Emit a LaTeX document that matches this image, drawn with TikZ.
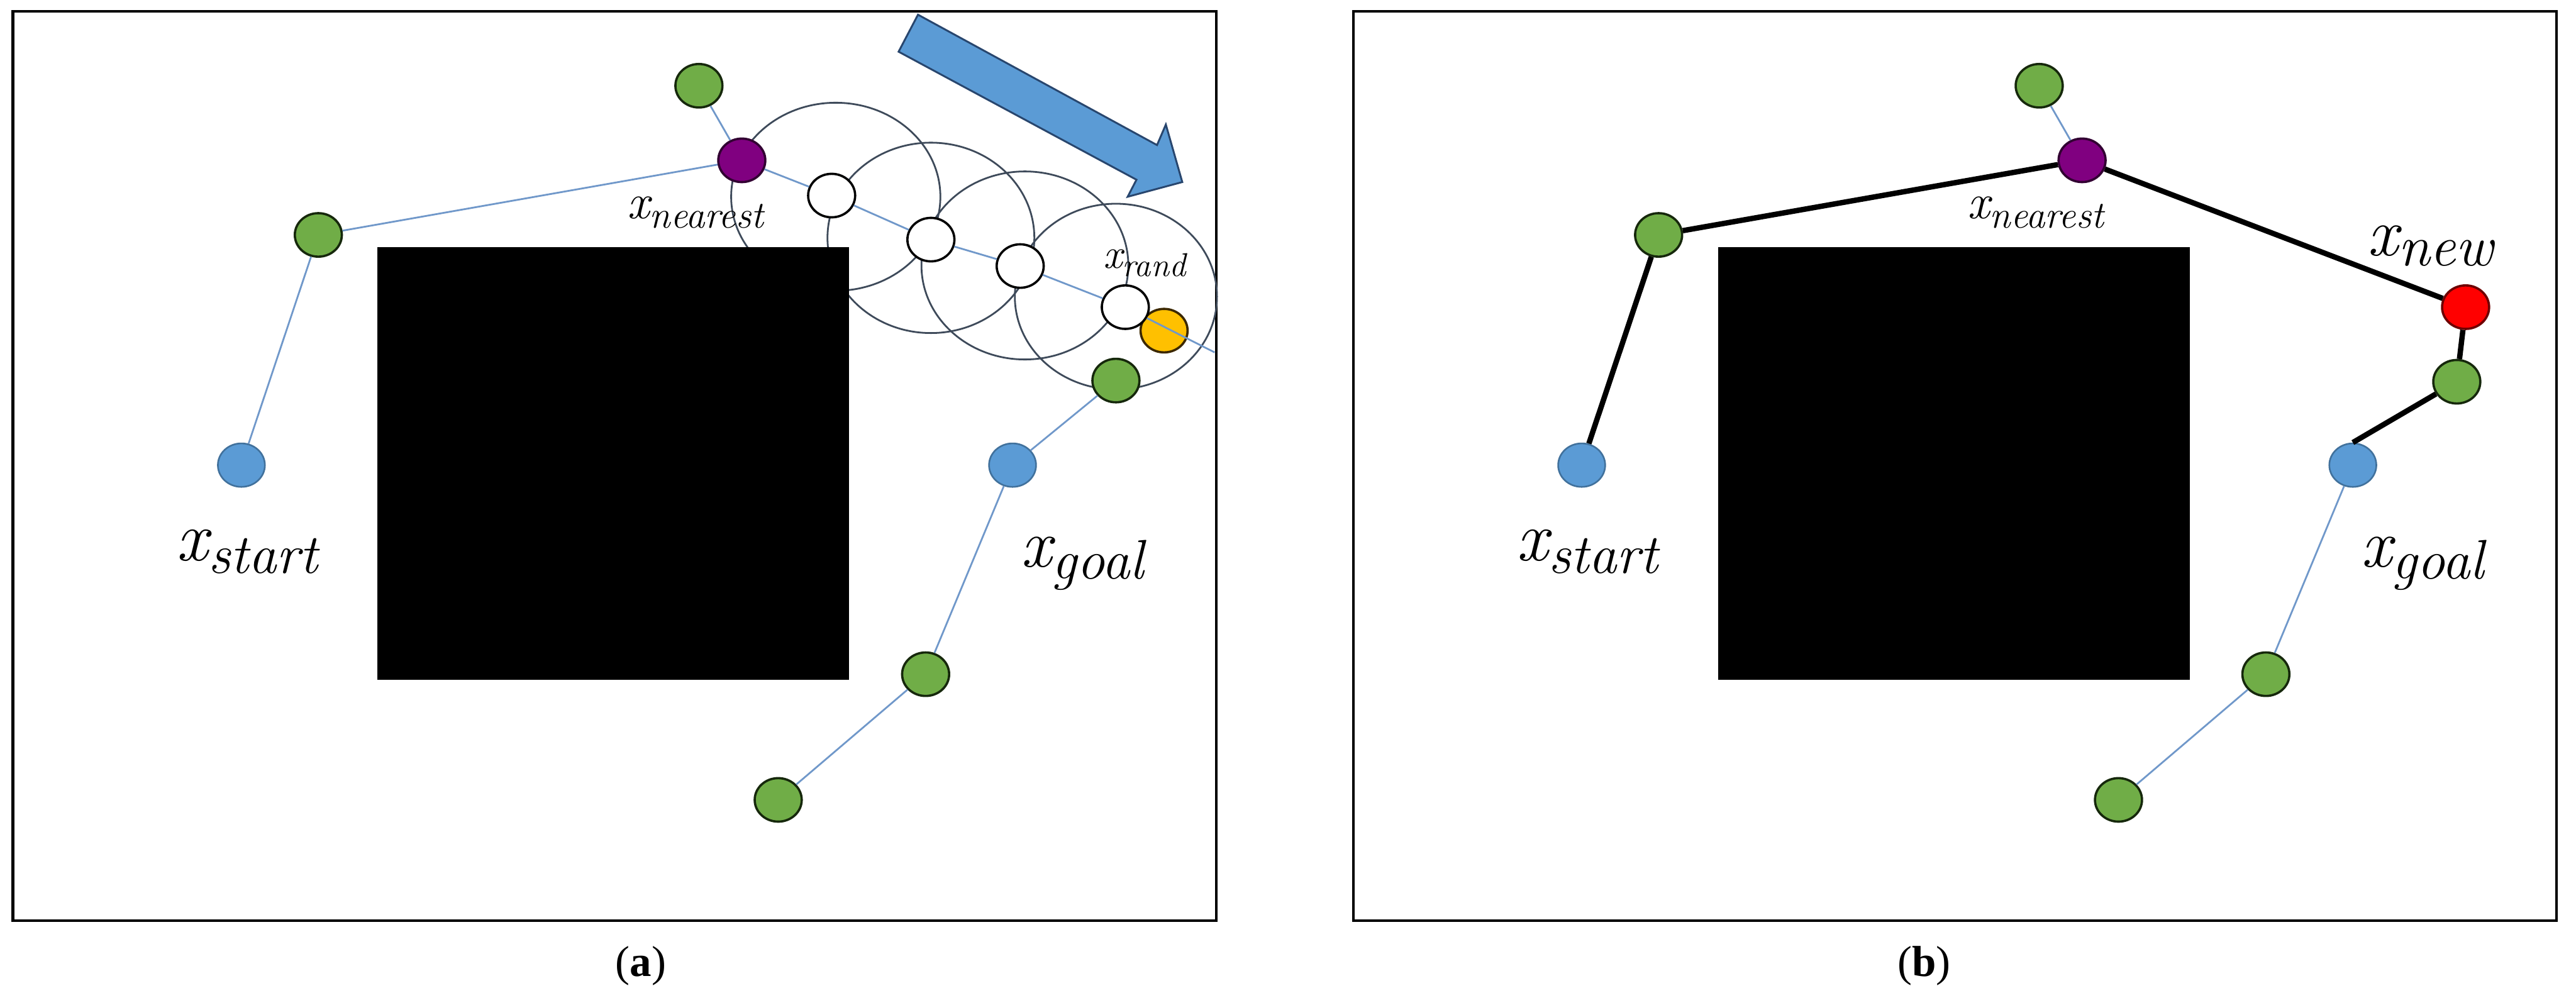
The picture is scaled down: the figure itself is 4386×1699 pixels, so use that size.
\documentclass[tikz,border=0pt]{standalone}
\usepackage{fontspec}
\newfontfamily\capfont{Liberation Serif}
\usetikzlibrary{shapes.geometric}
\definecolor{thinblue}{RGB}{112,152,202}
\definecolor{circgray}{RGB}{62,74,90}
\definecolor{gfill}{RGB}{112,173,71}
\definecolor{gdraw}{RGB}{22,40,12}
\definecolor{pfill}{RGB}{128,0,128}
\definecolor{pdraw}{RGB}{50,0,50}
\definecolor{bfill}{RGB}{91,155,213}
\definecolor{bdraw}{RGB}{65,113,156}
\definecolor{ofill}{RGB}{255,192,0}
\definecolor{odraw}{RGB}{60,40,0}
\definecolor{rfill}{RGB}{255,0,0}
\definecolor{rdraw}{RGB}{110,0,0}
\definecolor{arrdraw}{RGB}{40,70,110}
% #1 main size, #2 sub size, #3 drop, #4 subscript text
\newcommand{\xsublab}[4]{{\fontsize{#1}{#1}\selectfont\itshape x}\raisebox{-#3}{\fontsize{#2}{#2}\selectfont\itshape #4}}
\tikzset{
  vtx/.style={ellipse, minimum width=0.8cm, minimum height=0.74cm, inner sep=0pt, line width=1.1pt},
  gnode/.style={vtx, fill=gfill, draw=gdraw},
  pnode/.style={vtx, fill=pfill, draw=pdraw},
  bnode/.style={vtx, fill=bfill, draw=bdraw, line width=0.8pt},
  wnode/.style={vtx, fill=white, draw=black},
  onode/.style={vtx, fill=ofill, draw=odraw},
  rnode/.style={vtx, fill=rfill, draw=rdraw},
  tline/.style={draw=thinblue, line width=0.85pt},
  kline/.style={draw=black, line width=2.6pt},
  circ/.style={draw=circgray, line width=0.85pt},
  frame/.style={draw=black, line width=1.3pt},
  lbl/.style={inner sep=0pt, anchor=base west},
  capt/.style={inner sep=0pt, font=\capfont\fontsize{21}{25}\selectfont},
}
\begin{document}
\begin{tikzpicture}[x=0.01cm, y=-0.01cm]
\useasboundingbox (0,0) rectangle (4386,1699);
\fill[white] (0,0) rectangle (4386,1699);

% ---------------- Panel (a) ----------------
\draw[frame] (22,19) rectangle (2071,1568);
% circles
\draw[circ] (1423,335) ellipse [x radius=1.78cm, y radius=1.6cm];
\draw[circ] (1585,405) ellipse [x radius=1.76cm, y radius=1.62cm];
\draw[circ] (1745,452) ellipse [x radius=1.76cm, y radius=1.6cm];
\draw[circ] (1900,505) ellipse [x radius=1.72cm, y radius=1.58cm];
% obstacle
\fill[black] (643,421) rectangle (1446,1158);

\node[gnode] (gtA) at (1190,146) {};
\node[pnode] (pA) at (1263,273) {};
\node[gnode] (glA) at (542,400) {};
\node[bnode] (bsA) at (411,792) {};
\node[wnode] (w1) at (1416,333) {};
\node[wnode] (w2) at (1585,408) {};
\node[wnode] (w3) at (1737,453) {};
\node[onode] (oA) at (1982,563) {};
\node[wnode] (w4) at (1916,523) {};
\node[gnode] (grA) at (1900,648) {};
\node[bnode] (bgA) at (1724,792) {};
\node[gnode] (gmA) at (1576,1148) {};
\node[gnode] (gbA) at (1325,1362) {};
\coordinate (endA) at (2068,600);

\draw[tline] (gtA) -- (pA);
\draw[tline] (pA) -- (glA);
\draw[tline] (glA) -- (bsA);
\draw[tline] (pA) -- (w1);
\draw[tline] (w1) -- (w2);
\draw[tline] (w2) -- (w3);
\draw[tline] (w3) -- (w4);
\draw[tline] (w4) -- (endA);
\draw[tline] (grA) -- (bgA);
\draw[tline] (bgA) -- (gmA);
\draw[tline] (gmA) -- (gbA);

\node[lbl] (lnA) at (1067,372) {\xsublab{24}{18.5}{4.5pt}{nearest}};
\node[lbl] (lrA) at (1878,457) {\xsublab{20.5}{16}{4pt}{rand}};
\node[lbl] (lsA) at (300,955) {\xsublab{34}{27}{6pt}{start}};
\node[lbl] (lgA) at (1738,965) {\xsublab{33}{27}{6pt}{goal}};

% blue direction arrow
\draw[fill=bfill, draw=arrdraw, line width=0.9pt, line join=miter]
  (1563,25) -- (1970,247) -- (1985,212) -- (2013,310) -- (1920,335) -- (1935,306) -- (1530,88) -- cycle;

\node[capt] (capA) at (1091,1645) {(\textbf{a})};

% ---------------- Panel (b) ----------------
\draw[frame] (2304,19) rectangle (4353,1568);
\fill[black] (2925,421) rectangle (3728,1158);

\node[gnode] (gtB) at (3472,146) {};
\node[pnode] (pB) at (3545,273) {};
\node[gnode] (glB) at (2824,400) {};
\node[bnode] (bsB) at (2693,792) {};
\node[rnode] (rB) at (4198,523) {};
\node[gnode] (grB) at (4183,650) {};
\node[bnode] (bgB) at (4006,792) {};
\node[gnode] (gmB) at (3858,1148) {};
\node[gnode] (gbB) at (3607,1362) {};

\draw[tline] (gtB) -- (pB);
\draw[tline] (bgB) -- (gmB);
\draw[tline] (gmB) -- (gbB);
\draw[kline] (bsB) -- (glB);
\draw[kline] (glB) -- (pB);
\draw[kline] (pB) -- (rB);
\draw[kline] (rB) -- (grB);
\draw[kline] (grB) -- (bgB.north);

\node[lbl] (lnB) at (3349,372) {\xsublab{24}{18.5}{4.5pt}{nearest}};
\node[lbl] (lwB) at (4030,435) {\xsublab{33}{28}{5pt}{new}};
\node[lbl] (lsB) at (2582,955) {\xsublab{34}{27}{6pt}{start}};
\node[lbl] (lgB) at (4020,965) {\xsublab{33}{27}{6pt}{goal}};

\node[capt] (capB) at (3276,1645) {(\textbf{b})};
\end{tikzpicture}
\end{document}
